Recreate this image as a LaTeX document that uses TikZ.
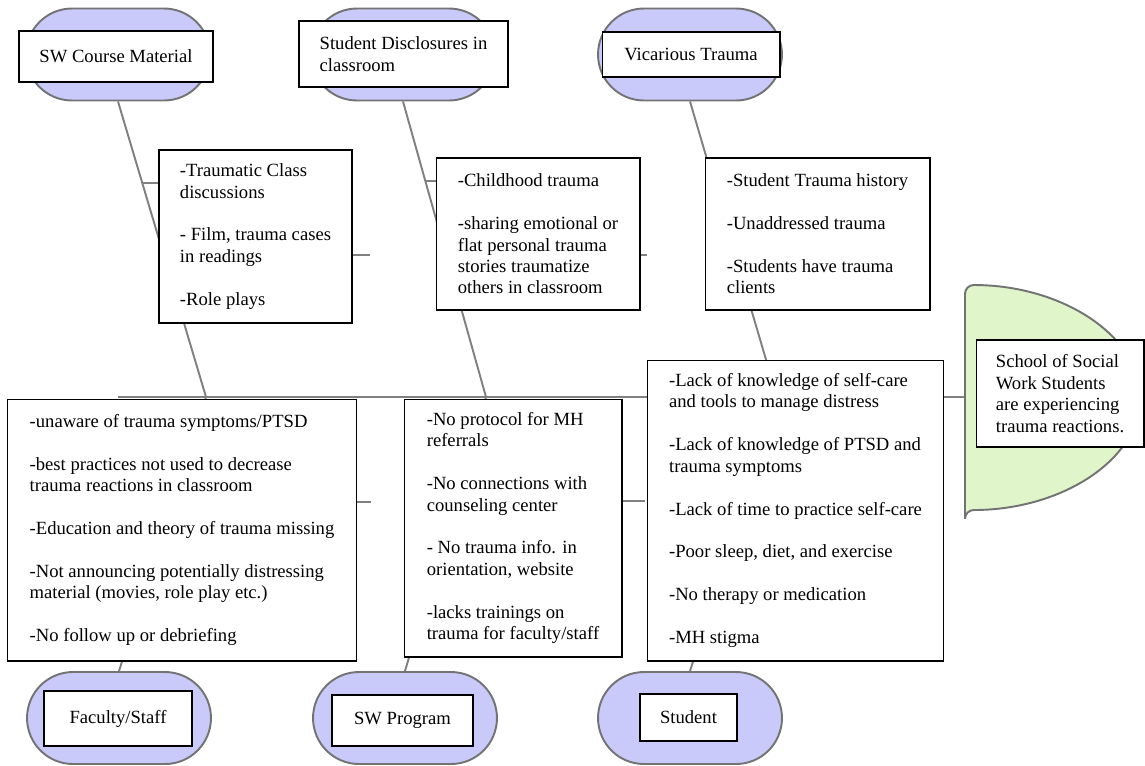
\documentclass[tikz,border=0pt]{standalone}
\usepackage{fontspec}
\setmainfont{Liberation Serif}
\usepackage{tikz}
\usetikzlibrary{shapes.misc,calc}
\definecolor{lav}{RGB}{202,202,250}
\definecolor{headgr}{RGB}{224,245,202}
\definecolor{bonegr}{RGB}{128,128,128}

\begin{document}
\begin{tikzpicture}[
    x=0.02cm, y=-0.02cm,
    every node/.style={font=\fontsize{10.6pt}{12.2pt}\selectfont, inner sep=0pt},
    bone/.style={draw=bonegr, line width=1.1pt},
    cat/.style={rounded rectangle, draw=black!55, line width=1.1pt, fill=lav,
                minimum width=3.68cm, minimum height=1.84cm},
    lbl/.style={draw, line width=0.6pt, fill=white, align=left},
    headst/.style={draw=black!55, line width=1.1pt, fill=headgr, rounded corners=5pt},
]
\useasboundingbox (0,0) rectangle (1145,765);

% Spine and joints.
\coordinate (tail) at (118,397);
\coordinate (hd) at (965,397);
\coordinate (j1) at (206,397);
\coordinate (j2) at (486,397);
\coordinate (j3) at (777,397);
\draw[bone] (tail) -- (hd);

% Category ovals.
\node[cat] (o1) at (118,54.5) {};
\node[cat] (o2) at (403,54.5) {};
\node[cat] (o3) at (690,54.5) {};
\node[cat] (o4) at (119,718) {};
\node[cat] (o5) at (405,718) {};
\node[cat] (o6) at (690,718) {};

\draw[bone] (o1.south) -- (j1);
\draw[bone] (o2.south) -- (j2);
\draw[bone] (o3.south) -- (j3);
\draw[bone] (o4.north) -- (j1);
\draw[bone] (o5.north) -- (j2);
\draw[bone] (o6.north) -- (j3);

\node[lbl, minimum width=3.88cm, minimum height=1.02cm] (l1) at (116,56.5) {SW Course Material};
\node[lbl, minimum width=4.18cm, minimum height=1.32cm] (l2) at (403.5,54) {Student Disclosures in\\classroom};
\node[lbl, minimum width=3.56cm, minimum height=0.90cm] (l3) at (691,54.5) {Vicarious Trauma};
\node[lbl, minimum width=2.96cm, minimum height=1.10cm] (l4) at (118,718.5) {Faculty/Staff};
\node[lbl, minimum width=2.82cm, minimum height=1.02cm] (l5) at (402.5,720.5) {SW Program};
\node[lbl, minimum width=1.94cm, minimum height=0.94cm] (l6) at (688.5,717.5) {Student};

% Cause boxes.
\node[lbl, minimum width=3.86cm, minimum height=3.46cm] (ca) at (255.5,236.5)
  {-Traumatic Class\\discussions\\[12.2pt]- Film, trauma cases\\in readings\\[12.2pt]-Role plays};
\node[lbl, minimum width=4.08cm, minimum height=3.04cm] (cb) at (538,234)
  {-Childhood trauma\\[12.2pt]-sharing emotional or\\flat personal trauma\\stories traumatize\\others in classroom};
\node[lbl, minimum width=4.50cm, minimum height=3.04cm] (cc) at (817.5,234)
  {-Student Trauma history\\[12.2pt]-Unaddressed trauma\\[12.2pt]-Students have trauma\\clients};
\node[lbl, minimum width=7.00cm, minimum height=5.24cm] (cd) at (182,530)
  {-unaware of trauma symptoms/PTSD\\[12.2pt]-best practices not used to decrease\\trauma reactions in classroom\\[12.2pt]-Education and theory of trauma missing\\[12.2pt]-Not announcing potentially distressing\\material (movies, role play etc.)\\[12.2pt]-No follow up or debriefing};
\node[lbl, minimum width=4.36cm, minimum height=5.16cm] (ce) at (513,528)
  {-No protocol for MH\\referrals\\[12.2pt]-No connections with\\counseling center\\[12.2pt]- No trauma info. in\\orientation, website\\[12.2pt]-lacks trainings on\\trauma for faculty/staff};
\node[lbl, minimum width=5.92cm, minimum height=6.02cm] (cf) at (795.5,510.5)
  {-Lack of knowledge of self-care\\and tools to manage distress\\[12.2pt]-Lack of knowledge of PTSD and\\trauma symptoms\\[12.2pt]-Lack of time to practice self-care\\[12.2pt]-Poor sleep, diet, and exercise\\[12.2pt]-No therapy or medication\\[12.2pt]-MH stigma};

% Short sub-bones.
\coordinate (t1) at ($(o1.south)!0.277!(j1)$);
\coordinate (t2) at ($(o2.south)!0.27!(j2)$);
\draw[bone] (t1) -- (t1 -| ca.west);
\draw[bone] (t2) -- (t2 -| cb.west);
\coordinate (r1) at (370,255);
\coordinate (r2) at (647,255);
\coordinate (r3) at (371,502);
\coordinate (r4) at (645,501);
\draw[bone] (r1 -| ca.east) -- (r1);
\draw[bone] (r2 -| cb.east) -- (r2);
\draw[bone] (r3 -| cd.east) -- (r3);
\draw[bone] (r4 -| ce.east) -- (r4);

% Head and effect.
\draw[headst] (965,400) -- (965,285) arc[start angle=-90, end angle=90, x radius=175, y radius=112.5] -- (965,510) -- cycle;
\node[lbl, minimum width=3.36cm, minimum height=2.14cm] (eff) at (1060,393.5)
  {School of Social\\Work Students\\are experiencing\\trauma reactions.};
\end{tikzpicture}
\end{document}
